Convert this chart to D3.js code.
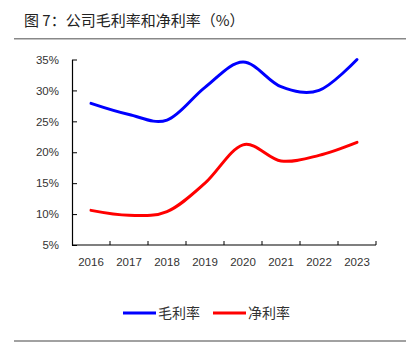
<!DOCTYPE html>
<html>
<head>
<meta charset="utf-8">
<script src="https://cdn.jsdelivr.net/npm/d3@7"></script>
<style>
  body { margin: 0; background: #fff; }
  svg { display: block; }
</style>
</head>
<body>
<svg id="chart" width="420" height="359"></svg>
<script>
// chart values
const years = ['2016', '2017', '2018', '2019', '2020', '2021', '2022', '2023'];
const grossMargin = [27.9, 26.1, 25.2, 30.5, 34.6, 30.6, 30.0, 35.0];
const netMargin = [10.6, 9.8, 10.4, 15.0, 21.2, 18.6, 19.5, 21.6];
const yTicks = [5, 10, 15, 20, 25, 30, 35];
const seriesNames = ['毛利率', '净利率'];
const seriesColors = ['#0000ff', '#ff0000'];

const svg = d3.select('#chart');
const cjk = '"Noto Sans CJK SC", "Noto Sans", sans-serif';
const latin = '"Liberation Sans", Arial, sans-serif';

// title + rules
svg.append('text')
    .attr('x', 24).attr('y', 26)
    .attr('fill', '#222')
    .style('font-family', cjk)
    .style('font-size', '15px')
    .text('图 7：公司毛利率和净利率（%）');

svg.append('line')
    .attr('x1', 14).attr('x2', 406).attr('y1', 38.7).attr('y2', 38.7)
    .attr('stroke', '#888').attr('stroke-width', 1.6);

svg.append('line')
    .attr('x1', 14).attr('x2', 406).attr('y1', 341).attr('y2', 341)
    .attr('stroke', '#444').attr('stroke-width', 1.2);

let margin = {left: 72, right: 44, top: 59.5, bottom: 114},
    width = 420 - margin.left - margin.right,
    height = 359 - margin.top - margin.bottom;

let g = svg.append('g')
    .attr('transform', 'translate(' + margin.left + ',' + margin.top + ')');

var x = d3.scaleBand()
    .domain(years)
    .range([0, width]);

var y = d3.scaleLinear()
    .domain([5, 35])
    .range([height, 0]);

// y axis
var yAxis = g.append('g')
    .call(d3.axisLeft(y).tickValues(yTicks).tickSize(5).tickSizeOuter(0)
        .tickFormat(function(d) { return d + '%'; }));
yAxis.select('.domain').attr('stroke', '#000').attr('stroke-width', 1.2);
yAxis.selectAll('.tick line').attr('stroke', '#000').attr('x2', 5).attr('x1', 0);
yAxis.selectAll('.tick text')
    .attr('x', -13)
    .attr('fill', '#333')
    .style('font-family', latin)
    .style('font-size', '11.5px');

// x axis (ticks on band boundaries)
var xAxis = g.append('g')
    .attr('transform', 'translate(0,' + height + ')');
xAxis.append('line')
    .attr('x1', 0).attr('x2', width)
    .attr('stroke', '#000').attr('stroke-width', 1.2);
xAxis.selectAll('.bound')
    .data(years.slice(1).concat(['end']))
    .enter().append('line')
    .attr('class', 'bound')
    .attr('x1', function(d, i) { return x.step() * (i + 1); })
    .attr('x2', function(d, i) { return x.step() * (i + 1); })
    .attr('y1', 0).attr('y2', -4)
    .attr('stroke', '#000');
xAxis.selectAll('.lbl')
    .data(years)
    .enter().append('text')
    .attr('class', 'lbl')
    .attr('x', function(d) { return x(d) + x.bandwidth() / 2; })
    .attr('y', 21)
    .attr('text-anchor', 'middle')
    .attr('fill', '#333')
    .style('font-family', latin)
    .style('font-size', '11.5px')
    .text(function(d) { return d; });

// lines, Excel-style smoothing
var line = d3.line()
    .x(function(d, i) { return x(years[i]) + x.bandwidth() / 2; })
    .y(function(d) { return y(d); })
    .curve(d3.curveCardinal.tension(0));

[grossMargin, netMargin].forEach(function(values, k) {
  g.append('path')
      .datum(values)
      .attr('fill', 'none')
      .attr('stroke', seriesColors[k])
      .attr('stroke-width', 3)
      .attr('stroke-linecap', 'round')
      .attr('d', line);
});

// legend
var legend = svg.append('g')
    .selectAll('g')
    .data(seriesNames)
    .enter().append('g')
    .attr('transform', function(d, i) { return 'translate(' + (123 + i * 90) + ',313)'; });

legend.append('line')
    .attr('x1', 0).attr('x2', 33)
    .attr('stroke', function(d, i) { return seriesColors[i]; })
    .attr('stroke-width', 3);

legend.append('text')
    .attr('x', 35)
    .attr('dy', '0.35em')
    .attr('fill', '#333')
    .style('font-family', cjk)
    .style('font-size', '14px')
    .text(function(d) { return d; });
</script>
</body>
</html>
